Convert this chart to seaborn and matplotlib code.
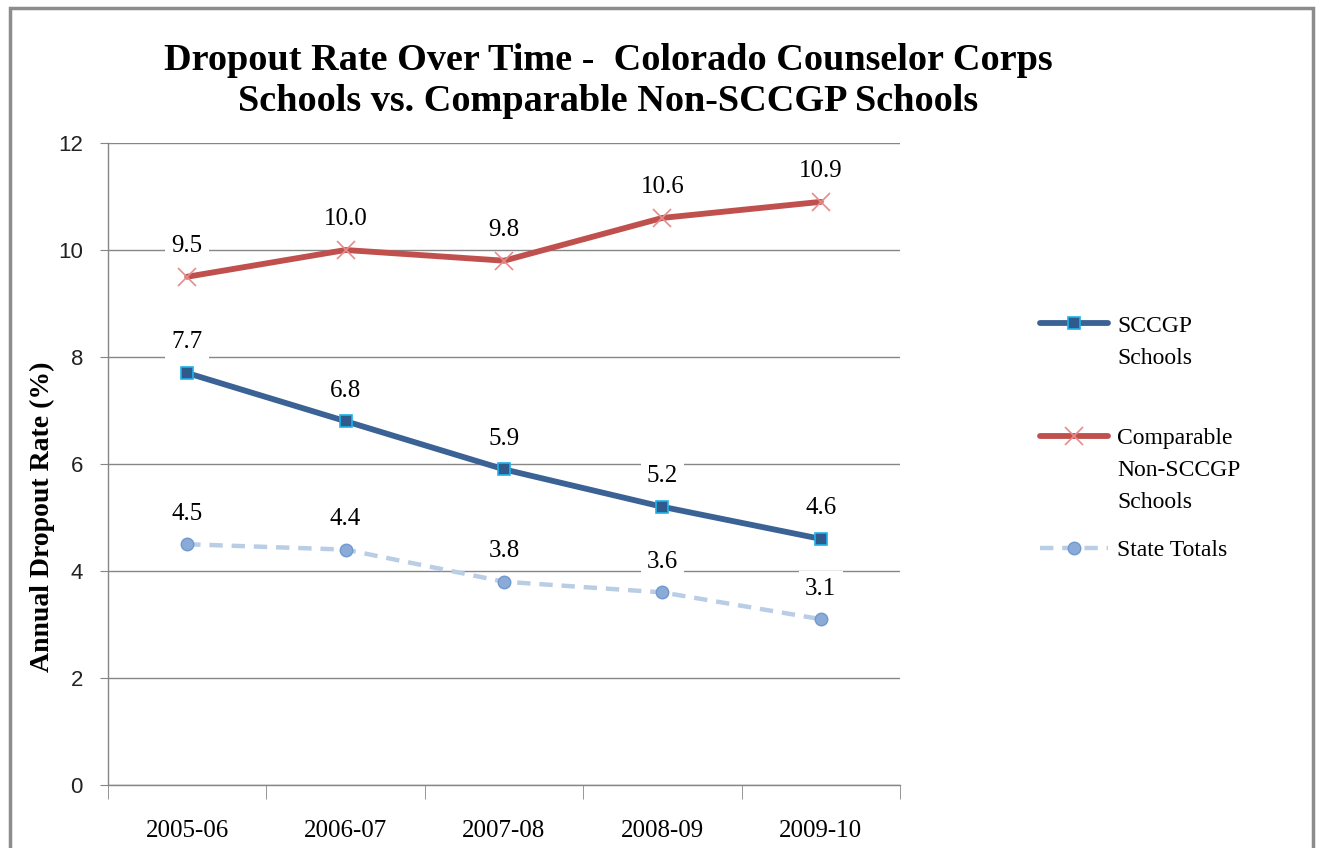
import numpy as np
import pandas as pd
import seaborn as sns
import matplotlib.pyplot as plt
from matplotlib.patches import Rectangle

years = ["2005-06", "2006-07", "2007-08", "2008-09", "2009-10"]
sccgp = [7.7, 6.8, 5.9, 5.2, 4.6]
comparable = [9.5, 10.0, 9.8, 10.6, 10.9]
state = [4.5, 4.4, 3.8, 3.6, 3.1]
first_lines = ["SCCGP", "Comparable", "State Totals"]
extra_lines = [["Schools"], ["Non-SCCGP", "Schools"], []]

sns.set_style("white", {"text.color": "black", "xtick.color": "black", "ytick.color": "black"})
plt.rcParams['font.family'] = ['Liberation Serif', 'DejaVu Serif']

fig = plt.figure(figsize=(13.19, 8.48), dpi=100)
ax = fig.add_axes([108/1319, 63/848, 792/1319, 642/848])

x = np.arange(len(years))
df = pd.DataFrame({"x": x, "sccgp": sccgp, "comp": comparable, "state": state})

sns.lineplot(data=df, x="x", y="sccgp", ax=ax, color="#3B6294", lw=4.2,
             marker="s", ms=9, mfc="#2F5A8C", mec="#1FB3EA", mew=1.2,
             label=first_lines[0], zorder=4)
sns.lineplot(data=df, x="x", y="comp", ax=ax, color="#C0504D", lw=4.2,
             marker="x", ms=13, mec="#E58C8A", mew=1.2,
             label=first_lines[1], zorder=4)
sns.lineplot(data=df, x="x", y="state", ax=ax, color="#B9CDE5", lw=3.2,
             dashes=(3, 2), marker="o", ms=9, mfc="#8AAAD8", mec="#7099D0",
             mew=1, label=first_lines[2], zorder=3)

for series in (sccgp, comparable, state):
    for xi, v in zip(x, series):
        ax.annotate(f"{v:.1f}", (xi, v), xytext=(0, 22), textcoords="offset points",
                    ha="center", va="center", fontsize=18, color="black",
                    bbox=dict(boxstyle="square,pad=0.25", fc="white", ec="none"),
                    zorder=5)

ax.set_xlim(-0.5, 4.5)
ax.set_ylim(0, 12)
ax.set_yticks(range(0, 13, 2))
ax.set_xticks(x)
ax.set_xticklabels(years, fontsize=18, color="black")
ax.set_yticklabels([str(v) for v in range(0, 13, 2)], fontsize=16, family="Liberation Sans", color="#222222")
ax.tick_params(axis="y", length=6, color="#868686", direction="out", left=True, pad=12)
ax.tick_params(axis="x", length=0, pad=25)
ax.set_xticks(np.arange(-0.5, 5, 1), minor=True)
ax.tick_params(axis="x", which="minor", length=10, color="#868686", bottom=True)
ax.yaxis.grid(True, color="#868686", lw=1)
ax.set_axisbelow(True)
for s in ["top", "right"]:
    ax.spines[s].set_visible(False)
for s in ["left", "bottom"]:
    ax.spines[s].set_color("#868686")
    ax.spines[s].set_linewidth(1)
ax.set_xlabel("")
ax.set_ylabel("")

fig.text(608/1319, 1 - 81/848, "Dropout Rate Over Time -  Colorado Counselor Corps\nSchools vs. Comparable Non-SCCGP Schools",
         ha="center", va="center", fontsize=27.5, fontweight="bold", linespacing=1.2, color="black")
fig.text(42/1319, 1 - 517/848, "Annual Dropout Rate (%)", rotation=90, ha="center", va="center",
         fontsize=20, fontweight="bold", color="black")

# legend: handles aligned with the first line, extra lines as plain text
leg = ax.legend(loc="upper left", bbox_to_anchor=(1040/1319, 1 - 315/848),
                bbox_transform=fig.transFigure, frameon=False, fontsize=17,
                handlelength=2.9, labelspacing=3.85, handletextpad=0.38,
                borderpad=0, borderaxespad=0)
for t in leg.get_texts():
    t.set_color("black")
fig.canvas.draw()
r = fig.canvas.get_renderer()
for txt, more in zip(leg.get_texts(), extra_lines):
    bb = txt.get_window_extent(r)
    for k, line in enumerate(more):
        fig.text(bb.x0 / fig.bbox.width, (bb.y0 - 32 * (k + 1)) / fig.bbox.height, line,
                 ha="left", va="bottom", fontsize=17, color="black")

fig.add_artist(Rectangle((10/1319, -0.05), 1303/1319, 1.05 - 8/848, transform=fig.transFigure,
                         fill=False, ec="#8C8C8C", lw=2.5))

fig.savefig("out.png", dpi=100)
